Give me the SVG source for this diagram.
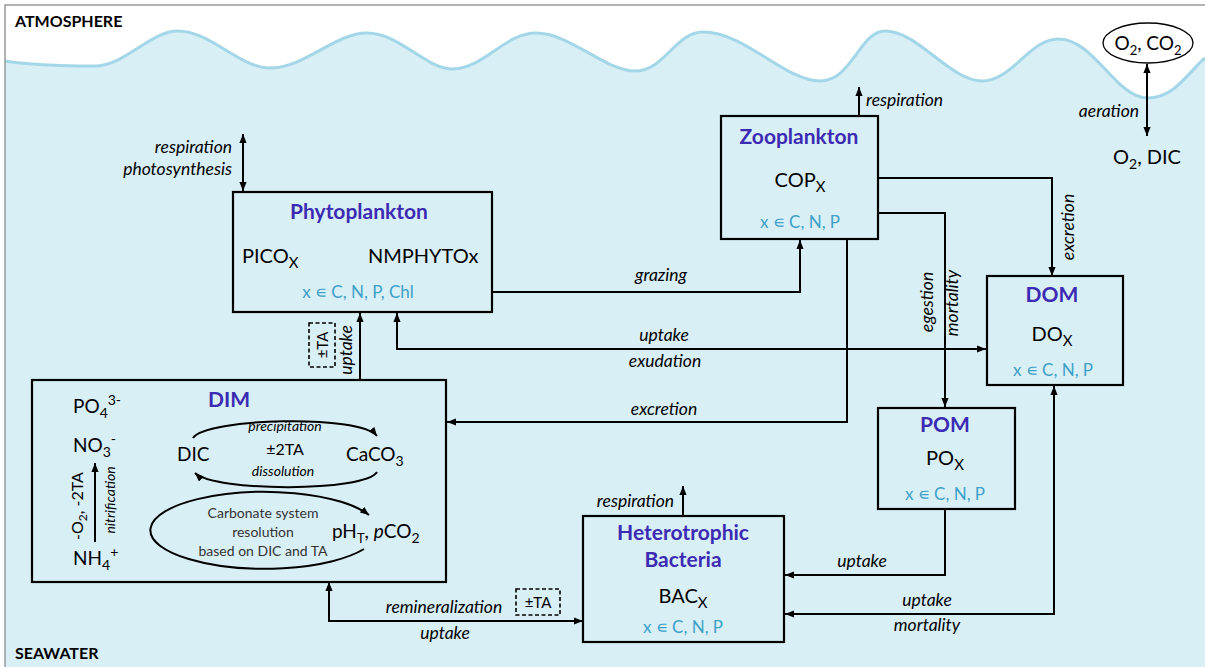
<svg xmlns="http://www.w3.org/2000/svg" width="1205" height="667" viewBox="0 0 1205 667">
<defs>
<marker id="arr" viewBox="0 0 10 8" refX="10" refY="4" markerWidth="9" markerHeight="7.5" markerUnits="userSpaceOnUse" orient="auto-start-reverse">
<path d="M0,0 L10,4 L0,8 z" fill="#000"/>
</marker>
<marker id="arrs" viewBox="0 0 10 8" refX="10" refY="4" markerWidth="9" markerHeight="7" markerUnits="userSpaceOnUse" orient="auto-start-reverse">
<path d="M0,0 L10,4 L0,8 z" fill="#000"/>
</marker>
</defs>
<style>
text{font-family:Lato,"Liberation Sans",sans-serif;fill:#000}
.box{fill:none;stroke:#000;stroke-width:2.2}
.con{fill:none;stroke:#000;stroke-width:2}
.dash{fill:none;stroke:#000;stroke-width:1.6;stroke-dasharray:4 2.5}
.title{font-weight:bold;font-size:21px;fill:#3b2bb3;text-anchor:middle}
.main{font-size:20px}
.set{font-size:17px;fill:#3da1c9;text-anchor:middle}
.lab{font-style:italic;font-size:17.5px}
.mid{text-anchor:middle}
.end{text-anchor:end}
.small{font-style:italic;font-size:14px;text-anchor:middle}
.carb{font-size:14px;fill:#333;text-anchor:middle}
.zone{font-weight:bold;font-size:16px}
</style>
<rect x="0" y="0" width="1205" height="667" fill="#fff"/>
<g id="sea">
<path d="M5 61 C30 65,60 66,95 66 C125 66,150 31,178 31 C210 31,240 68,270 68 C305 68,335 33,367 33 C400 33,425 69,453 69 C483 69,505 33,536 33 C570 33,605 71,635 71 C665 71,675 32,703 32 C745 32,785 81,820 81 C852 81,860 31,885 31 C918 31,950 81,982 81 C1012 81,1030 39,1058 39 C1095 39,1115 98,1148 98 C1175 98,1190 70,1205 58 L1205 667 L5 667 Z" fill="#d9eff6"/>
<path d="M5 61 C30 65,60 66,95 66 C125 66,150 31,178 31 C210 31,240 68,270 68 C305 68,335 33,367 33 C400 33,425 69,453 69 C483 69,505 33,536 33 C570 33,605 71,635 71 C665 71,675 32,703 32 C745 32,785 81,820 81 C852 81,860 31,885 31 C918 31,950 81,982 81 C1012 81,1030 39,1058 39 C1095 39,1115 98,1148 98 C1175 98,1190 70,1205 58" fill="none" stroke="#a3d7e8" stroke-width="3"/>
<path d="M5 667 V5 H1205" fill="none" stroke="#9a9a9a" stroke-width="1.5"/>
<text class="zone" x="15" y="27">ATMOSPHERE</text>
<text class="zone" x="15" y="659">SEAWATER</text>
</g>
<g id="air">
<ellipse cx="1148" cy="43" rx="45" ry="20" fill="#fff" stroke="#000" stroke-width="1.3"/>
<text class="mid" x="1148" y="50" font-size="19">O<tspan dy="5" font-size="13">2</tspan><tspan dy="-5">, CO</tspan><tspan dy="5" font-size="13">2</tspan></text>
</g>
<g id="dic-o2">
<text class="mid" x="1147" y="164" font-size="20">O<tspan dy="5" font-size="14">2</tspan><tspan dy="-5">, DIC</tspan></text>
</g>
<g id="phytoplankton">
<rect class="box" x="233" y="192" width="259" height="120"/>
<text class="title" x="359" y="219">Phytoplankton</text>
<text class="main" x="242" y="263">PICO<tspan dy="5" font-size="15">X</tspan></text>
<text class="main" x="368" y="263">NMPHYTOx</text>
<text class="set" x="358" y="298">x ∊ C, N, P, Chl</text>
</g>
<g id="zooplankton">
<rect class="box" x="721" y="116" width="157" height="123"/>
<text class="title" x="799" y="144">Zooplankton</text>
<text class="main mid" x="800" y="187">COP<tspan dy="5" font-size="15">X</tspan></text>
<text class="set" x="800" y="228">x ∊ C, N, P</text>
</g>
<g id="dom">
<rect class="box" x="987" y="276" width="136" height="109"/>
<text class="title" x="1052" y="302">DOM</text>
<text class="main mid" x="1052" y="341">DO<tspan dy="5" font-size="15">X</tspan></text>
<text class="set" x="1053" y="376">x ∊ C, N, P</text>
</g>
<g id="pom">
<rect class="box" x="878" y="408" width="137" height="101"/>
<text class="title" x="945" y="432">POM</text>
<text class="main mid" x="945" y="465">PO<tspan dy="5" font-size="15">X</tspan></text>
<text class="set" x="945" y="500">x ∊ C, N, P</text>
</g>
<g id="bacteria">
<rect class="box" x="583" y="516" width="201" height="126"/>
<text class="title" x="683" y="540">Heterotrophic</text>
<text class="title" x="683" y="567">Bacteria</text>
<text class="main mid" x="683" y="603">BAC<tspan dy="5" font-size="15">X</tspan></text>
<text class="set" x="683" y="633">x ∊ C, N, P</text>
</g>
<g id="dim">
<rect class="box" x="32" y="380" width="414" height="202"/>
<text class="title" x="229" y="407">DIM</text>
<text x="73" y="413" font-size="19">PO<tspan dy="5" font-size="14">4</tspan><tspan dy="-13" font-size="14">3-</tspan></text>
<text x="73" y="452" font-size="19">NO<tspan dy="5" font-size="14">3</tspan><tspan dy="-13" font-size="14">-</tspan></text>
<text x="73" y="565" font-size="19">NH<tspan dy="5" font-size="14">4</tspan><tspan dy="-13" font-size="14">+</tspan></text>
<text transform="translate(83,506) rotate(-90)" class="mid" font-size="16">-O<tspan dy="4" font-size="12">2</tspan><tspan dy="-4">, -2TA</tspan></text>
<text transform="translate(115,500) rotate(-90)" class="small">nitrification</text>
<text x="177" y="461" font-size="19">DIC</text>
<text class="mid" x="285" y="455" font-size="16">±2TA</text>
<text x="346" y="461" font-size="19">CaCO<tspan dy="5" font-size="14">3</tspan></text>
<text class="small" x="285" y="431">precipitation</text>
<text class="small" x="283" y="476">dissolution</text>
<text class="carb" x="263" y="518">Carbonate system</text>
<text class="carb" x="263" y="537">resolution</text>
<text class="carb" x="263" y="556">based on DIC and TA</text>
<text x="332" y="538" font-size="19">pH<tspan dy="5" font-size="13">T</tspan><tspan dy="-5">, </tspan><tspan font-style="italic">p</tspan>CO<tspan dy="5" font-size="14">2</tspan></text>
</g>
<g id="connectors">
<path class="con" d="M243 134 V191" marker-start="url(#arr)" marker-end="url(#arr)"/>
<path class="con" d="M1147 64 V136" marker-start="url(#arr)" marker-end="url(#arr)"/>
<path class="con" d="M859 116 V87" marker-end="url(#arr)"/>
<path class="con" d="M683 516 V486" marker-end="url(#arr)"/>
<path class="con" d="M492 292 H800 V240" marker-end="url(#arr)"/>
<path class="con" d="M878 178 H1052 V276" marker-end="url(#arr)"/>
<path class="con" d="M878 213 H945 V407" marker-end="url(#arr)"/>
<path class="con" d="M847 239 V422 H447" marker-end="url(#arr)"/>
<path class="con" d="M397 313 V349 H986" marker-start="url(#arr)" marker-end="url(#arr)"/>
<path class="con" d="M360 380 V313" marker-end="url(#arr)"/>
<path class="con" d="M945 509 V575 H785" marker-end="url(#arr)"/>
<path class="con" d="M785 614 H1054 V386" marker-start="url(#arr)" marker-end="url(#arr)"/>
<path class="con" d="M329 582 V621 H583" marker-start="url(#arr)" marker-end="url(#arr)"/>
<path class="con" d="M95 542 V463" marker-end="url(#arr)"/>
<path class="con" d="M193 438 C205 418,360 414,377 436" marker-end="url(#arrs)"/>
<path class="con" d="M377 472 C365 492,215 492,195 473" marker-end="url(#arrs)"/>
<path class="con" d="M364 549 A114 38.5 0 1 1 369 515" marker-end="url(#arrs)"/>
<rect class="dash" x="309" y="323" width="26" height="44"/>
<text transform="translate(327.5,345) rotate(-90)" class="mid" font-size="15">±TA</text>
<rect class="dash" x="516" y="589" width="44" height="26"/>
<text class="mid" x="538" y="608" font-size="15">±TA</text>
<text class="lab end" x="232" y="153">respiration</text>
<text class="lab end" x="232" y="175">photosynthesis</text>
<text class="lab" x="866" y="106">respiration</text>
<text class="lab end" x="1139" y="117">aeration</text>
<text class="lab mid" x="661" y="281">grazing</text>
<text class="lab mid" x="664" y="341">uptake</text>
<text class="lab mid" x="665" y="367">exudation</text>
<text class="lab mid" x="664" y="415">excretion</text>
<text class="lab mid" transform="translate(1074,227) rotate(-90)">excretion</text>
<text class="lab mid" transform="translate(933,302) rotate(-90)">egestion</text>
<text class="lab mid" transform="translate(958,303) rotate(-90)">mortality</text>
<text class="lab mid" transform="translate(352,350) rotate(-90)">uptake</text>
<text class="lab end" x="674" y="507">respiration</text>
<text class="lab mid" x="862" y="567">uptake</text>
<text class="lab mid" x="927" y="606">uptake</text>
<text class="lab mid" x="927" y="631">mortality</text>
<text class="lab mid" x="444" y="613">remineralization</text>
<text class="lab mid" x="445" y="639">uptake</text>
</g>
</svg>
